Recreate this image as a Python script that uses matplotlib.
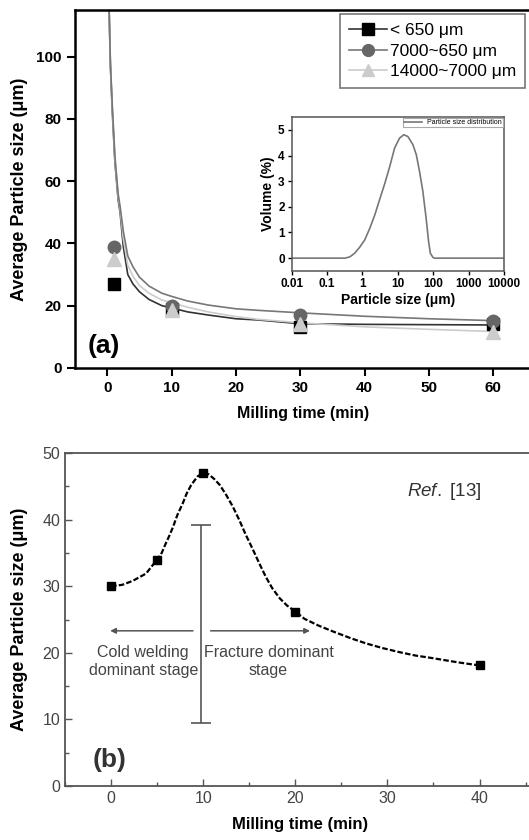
import matplotlib
matplotlib.use("Agg")
import matplotlib.pyplot as plt
from matplotlib.ticker import MultipleLocator, NullLocator

plt.rcParams['font.family'] = ['Liberation Sans', 'DejaVu Sans']
plt.rcParams['mathtext.fontset'] = 'custom'
plt.rcParams['mathtext.it'] = 'Liberation Sans:italic'
plt.rcParams['mathtext.rm'] = 'Liberation Sans'

# --- (a) points mesurés ---
t_pts = [1, 10, 30, 60]
size_fine = [27, 19, 13, 14]      # < 650 um
size_mid = [39, 20, 17, 15]       # 7000~650 um
size_coarse = [35, 18.5, 14, 11.5]  # 14000~7000 um

# courbes d'ajustement
fit_t = [0.3, 0.5, 0.8, 1.2, 1.7, 2.0, 2.5, 3.2, 4.0, 5.0, 6.5, 8.5, 10,
         12.5, 15.7, 20, 23.5, 30, 40, 50, 60]
fit_fine = [115, 97, 82, 66, 54, 50, 39, 30, 27, 24.5, 22, 20, 19.3,
            18, 17, 15.8, 15.4, 14.2, 14.0, 13.9, 13.8]
fit_mid = [115, 98, 84, 68, 56, 52, 44, 36, 32.5, 29.2, 26.3, 24, 23,
           21.5, 20.2, 19, 18.5, 17.7, 16.6, 15.8, 15.2]
fit_coarse = [115, 97.5, 83, 67, 55, 51, 41.5, 33, 29.5, 26.5, 24, 21.8, 21,
              19.5, 18, 16.5, 15.6, 14.5, 13.2, 12.4, 11.7]

labels = ['< 650 μm', '7000~650 μm', '14000~7000 μm']

# encart : distribution granulométrique
psd_size = [0.01, 0.32, 0.44, 0.6, 0.83, 1.16, 1.62, 2.24, 3.1, 4.3, 5.9,
            8.1, 11.2, 14.8, 19.2, 26.7, 33.3, 41, 51, 63, 74, 83, 98, 110,
            10000]
psd_vol = [0, 0, 0.05, 0.19, 0.42, 0.71, 1.17, 1.69, 2.31, 2.92, 3.57,
           4.29, 4.68, 4.81, 4.74, 4.42, 4.03, 3.38, 2.6, 1.56, 0.65, 0.19,
           0.03, 0, 0]

# --- (b) Ref. [13] ---
b_t = [0, 5, 10, 20, 40]
b_size = [30, 34, 47, 26.2, 18.2]
b_curve_t = [0, 1.2, 2.35, 3.8, 5, 5.5, 5.9, 6.3, 6.7, 7.2, 7.8, 8.2, 8.7,
             9.4, 10, 10.6, 11.2, 11.8, 12.5, 13.2, 13.9, 14.6, 15.4, 16.1,
             16.8, 17.5, 18.3, 19.1, 20, 21, 22.5, 24.1, 26, 27.7, 29.5,
             31.3, 33, 34.9, 37.5, 40]
b_curve_y = [30, 30.2, 30.8, 31.9, 34, 35, 36.3, 37.5, 38.8, 40.7, 42.5,
             43.9, 45.2, 46.5, 47, 46.8, 46.1, 45.2, 43.7, 42, 40, 37.8,
             35.5, 33.4, 31.4, 29.7, 28.2, 27.1, 26.2, 25.1, 24.1, 23.2,
             22.2, 21.4, 20.7, 20.1, 19.6, 19.2, 18.6, 18.1]
bar_x = 9.8
bar_lo, bar_hi = 9.4, 39.2

fig = plt.figure(figsize=(5.29, 8.4), dpi=100)

# ================= panneau (a) =================
ax1 = fig.add_axes([0.1418, 0.562, 0.8639, 0.426])
ax1.plot(fit_t, fit_fine, color='#333333', lw=1.2)
ax1.plot(fit_t, fit_coarse, color='#cccccc', lw=1.2)
ax1.plot(fit_t, fit_mid, color='#777777', lw=1.2)
ax1.plot(t_pts, size_fine, 's', color='black', ms=8.5)
ax1.plot(t_pts, size_mid, 'o', color='#666666', ms=9)
ax1.plot(t_pts, size_coarse, '^', color='#cccccc', ms=9.5)

ax1.set_xlim(-5, 66)
ax1.set_ylim(0, 115)
ax1.xaxis.set_major_locator(MultipleLocator(10))
ax1.yaxis.set_major_locator(MultipleLocator(20))
ax1.tick_params(direction='out', length=6, width=1.5, labelsize=11)
for lab in ax1.get_xticklabels() + ax1.get_yticklabels():
    lab.set_fontweight('bold')
for sp in ax1.spines.values():
    sp.set_linewidth(1.8)
ax1.set_xlabel('Milling time (min)', fontsize=11.5, fontweight='bold', labelpad=8)
ax1.set_ylabel('Average Particle size (μm)', fontsize=13, fontweight='bold', labelpad=6)
ax1.text(-0.5, 7, '(a)', fontsize=19, fontweight='bold', ha='center', va='center')

# légende avec traits
h = [plt.Line2D([], [], color='#333333', marker='s', mfc='black', mec='black', ms=8, lw=1.2),
     plt.Line2D([], [], color='#777777', marker='o', mfc='#666666', mec='#666666', ms=8.5, lw=1.2),
     plt.Line2D([], [], color='#cccccc', marker='^', mfc='#cccccc', mec='#cccccc', ms=9, lw=1.2)]
leg = ax1.legend(h, labels, loc='upper right', fontsize=12.5, fancybox=False,
                 edgecolor='#777777', handlelength=2.2, labelspacing=0.3,
                 borderaxespad=0.25, handletextpad=0.2, borderpad=0.5, framealpha=1,
                 bbox_to_anchor=(0.995, 1.0))
leg.get_frame().set_linewidth(1.2)

# encart
axi = fig.add_axes([0.5514, 0.6774, 0.4013, 0.1833])
axi.plot(psd_size, psd_vol, color='#777777', lw=1.2, label='Particle size distribution')
axi.set_xscale('log')
axi.set_xlim(0.01, 10000)
axi.set_ylim(-0.5, 5.5)
axi.set_xticks([0.01, 0.1, 1, 10, 100, 1000, 10000])
axi.set_xticklabels(['0.01', '0.1', '1', '10', '100', '1000', '10000'])
axi.xaxis.set_minor_locator(NullLocator())
axi.yaxis.set_major_locator(MultipleLocator(1))
axi.tick_params(direction='out', length=3, width=1, labelsize=8.5, pad=2)
for lab in axi.get_xticklabels() + axi.get_yticklabels():
    lab.set_fontweight('bold')
for sp in axi.spines.values():
    sp.set_color('#555555')
    sp.set_linewidth(1.1)
axi.set_xlabel('Particle size (μm)', fontsize=10, fontweight='bold', labelpad=2)
axi.set_ylabel('Volume (%)', fontsize=10, fontweight='bold', labelpad=2)
li = axi.legend(loc='upper right', fontsize=5, fancybox=False, edgecolor='#aaaaaa',
                borderaxespad=0.1, handlelength=2.5, borderpad=0.2, framealpha=1)
li.get_frame().set_linewidth(0.8)

# ================= panneau (b) =================
ax2 = fig.add_axes([0.1229, 0.0643, 0.888, 0.3964])
ax2.plot(b_curve_t, b_curve_y, color='black', lw=1.6, ls=(0, (2.5, 1)))
ax2.plot(b_t, b_size, 's', color='black', ms=6)
ax2.errorbar([bar_x], [(bar_lo + bar_hi) / 2], yerr=[(bar_hi - bar_lo) / 2],
             color='#555555', lw=1.2, capsize=7, capthick=1.2)

ax2.annotate('', xy=(-0.4, 23.3), xytext=(9.2, 23.3),
             arrowprops=dict(arrowstyle='-|>', color='#555555', lw=1.1, mutation_scale=8))
ax2.annotate('', xy=(21.9, 23.3), xytext=(10.5, 23.3),
             arrowprops=dict(arrowstyle='-|>', color='#555555', lw=1.1, mutation_scale=8))
ax2.text(3.5, 18.7, 'Cold welding\ndominant stage', fontsize=11.5, ha='center',
         va='center', color='#444444', linespacing=1.25)
ax2.text(17.1, 18.7, 'Fracture dominant\nstage', fontsize=11.5, ha='center',
         va='center', color='#444444', linespacing=1.25)
ax2.text(40.2, 44.2, r'$\it{Ref.}$ [13]', fontsize=13.5, ha='right', va='center',
         color='#333333')
ax2.text(-0.2, 3.9, '(b)', fontsize=19, fontweight='bold', ha='center', va='center',
         color='#333333')

ax2.set_xlim(-5, 46)
ax2.set_ylim(0, 50)
ax2.xaxis.set_major_locator(MultipleLocator(10))
ax2.xaxis.set_minor_locator(MultipleLocator(5))
ax2.yaxis.set_major_locator(MultipleLocator(10))
ax2.yaxis.set_minor_locator(MultipleLocator(5))
ax2.tick_params(which='both', direction='in', width=1, colors='#555555',
                labelcolor='#444444', labelsize=11.5)
ax2.tick_params(which='major', length=5)
ax2.tick_params(which='minor', length=3)
for sp in ax2.spines.values():
    sp.set_color('#555555')
    sp.set_linewidth(1.3)
ax2.set_xlabel('Milling time (min)', fontsize=12, fontweight='bold', labelpad=8)
ax2.set_ylabel('Average Particle size (μm)', fontsize=13, fontweight='bold', labelpad=10)

fig.savefig('out.png', dpi=100)
